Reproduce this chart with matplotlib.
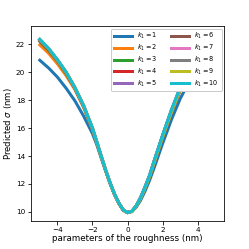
import matplotlib
matplotlib.use("Agg")
import matplotlib.pyplot as plt

# roughness parameter (nm)
x = [-5, -4.5, -4, -3.5, -3, -2.5, -2, -1.75, -1.5, -1.25, -1, -0.75, -0.5, -0.25, 0,
     0.25, 0.5, 0.75, 1, 1.25, 1.5, 1.75, 2, 2.5, 3, 3.5, 4, 4.5, 5]

# predicted sigma (nm) for each k1
sigma_k1 = [20.85, 20.3, 19.65, 18.85, 17.95, 16.85, 15.6, 14.8, 13.85, 12.95, 12.05, 11.27, 10.63, 10.14, 9.95,
            10.03, 10.35, 10.85, 11.5, 12.25, 13.1, 14.0, 14.9, 16.6, 18.1, 19.3, 20.2, 20.9, 21.4]
sigma_k2 = [21.95, 21.35, 20.6, 19.75, 18.75, 17.45, 15.9, 14.9, 13.9, 12.95, 12.05, 11.25, 10.6, 10.12, 9.95,
            10.05, 10.42, 11.0, 11.72, 12.5, 13.45, 14.4, 15.35, 17.1, 18.7, 20.0, 21.1, 21.9, 22.4]
sigma_k3 = [22.2, 21.55, 20.8, 19.9, 18.85, 17.55, 15.95, 14.95, 13.95, 12.98, 12.08, 11.28, 10.63, 10.14, 9.95,
            10.05, 10.44, 11.03, 11.77, 12.56, 13.55, 14.5, 15.45, 17.25, 18.85, 20.15, 21.25, 22.05, 22.55]
sigma_k4 = [22.25, 21.6, 20.85, 19.95, 18.85, 17.55, 15.97, 14.97, 13.97, 12.99, 12.09, 11.29, 10.64, 10.14, 9.95,
            10.05, 10.44, 11.04, 11.78, 12.58, 13.57, 14.52, 15.47, 17.27, 18.87, 20.17, 21.27, 22.07, 22.57]
sigma_k5 = [22.3, 21.65, 20.85, 19.97, 18.87, 17.57, 15.98, 14.98, 13.98, 12.99, 12.09, 11.29, 10.64, 10.14, 9.95,
            10.05, 10.45, 11.04, 11.79, 12.59, 13.58, 14.53, 15.48, 17.28, 18.88, 20.18, 21.28, 22.08, 22.58]
sigma_k6 = [22.3, 21.65, 20.87, 19.98, 18.88, 17.58, 15.98, 14.98, 13.98, 12.99, 12.09, 11.29, 10.64, 10.14, 9.95,
            10.04, 10.4, 10.98, 11.7, 12.5, 13.45, 14.4, 15.35, 17.1, 18.7, 20.0, 21.1, 21.95, 22.45]
sigma_k7 = [22.32, 21.67, 20.88, 19.99, 18.89, 17.59, 15.99, 14.99, 13.99, 13.0, 12.1, 11.3, 10.65, 10.15, 9.95,
            10.05, 10.45, 11.05, 11.8, 12.6, 13.59, 14.54, 15.49, 17.29, 18.89, 20.19, 21.29, 22.09, 22.59]
sigma_k8 = [22.33, 21.68, 20.89, 19.99, 18.89, 17.59, 15.99, 14.99, 13.99, 13.0, 12.1, 11.3, 10.65, 10.15, 9.95,
            10.05, 10.44, 11.03, 11.77, 12.57, 13.55, 14.5, 15.45, 17.22, 18.82, 20.12, 21.22, 22.02, 22.52]
sigma_k9 = [22.34, 21.69, 20.9, 20.0, 18.9, 17.6, 16.0, 15.0, 14.0, 13.0, 12.1, 11.3, 10.65, 10.15, 9.95,
            10.04, 10.42, 11.0, 11.72, 12.52, 13.48, 14.43, 15.38, 17.15, 18.75, 20.05, 21.15, 21.95, 22.45]
sigma_k10 = [22.35, 21.7, 20.9, 20.0, 18.9, 17.6, 16.0, 15.0, 14.0, 13.0, 12.1, 11.3, 10.65, 10.15, 9.95,
             10.05, 10.45, 11.05, 11.8, 12.6, 13.6, 14.55, 15.5, 17.3, 18.9, 20.2, 21.3, 22.1, 22.6]

k_values = [1, 2, 3, 4, 5, 6, 7, 8, 9, 10]
curves = [sigma_k1, sigma_k2, sigma_k3, sigma_k4, sigma_k5,
          sigma_k6, sigma_k7, sigma_k8, sigma_k9, sigma_k10]

fig = plt.figure(figsize=(249 / 72, 249 / 72), dpi=72)
ax = fig.add_axes([0.1245, 0.1124, 0.7755, 0.7832])

for k, s in zip(k_values, curves):
    ax.plot(x, s, lw=3, label=r"$k_1 = %d$" % k)

ax.set_ylim(9.35, 23.3)
ax.set_yticks([10, 12, 14, 16, 18, 20, 22])
ax.set_xticks([-4, -2, 0, 2, 4])
ax.tick_params(labelsize=7.2, pad=2.5)
ax.set_xlabel("parameters of the roughness (nm)", fontsize=8.7, labelpad=1)
ax.set_ylabel(r"Predicted $\sigma$ (nm)", fontsize=8.5, labelpad=2)
ax.legend(ncol=2, loc="upper right", fontsize=6.5, handlelength=2.8,
          columnspacing=2.0, labelspacing=0.25, framealpha=1,
          borderaxespad=0.4)

fig.savefig("out.png", dpi=72)
